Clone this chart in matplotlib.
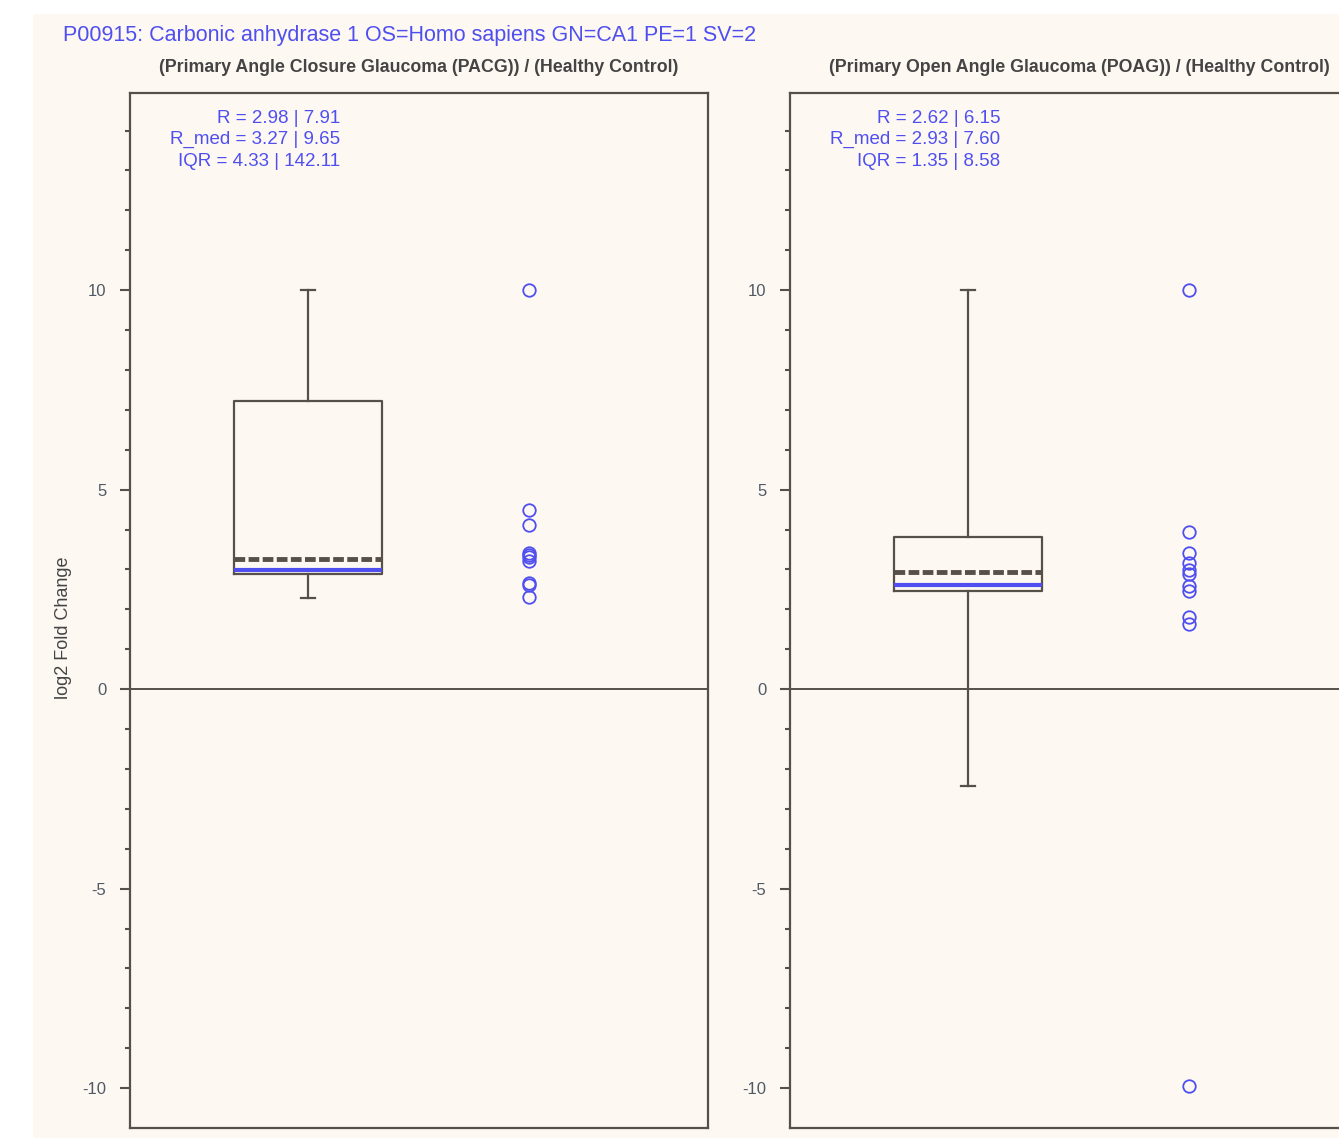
import matplotlib
matplotlib.use("Agg")
import matplotlib.pyplot as plt
from matplotlib.patches import Rectangle

plt.rcParams["font.family"] = ["Liberation Sans", "DejaVu Sans"]
plt.rcParams["axes.unicode_minus"] = False

TITLE = "P00915: Carbonic anhydrase 1 OS=Homo sapiens GN=CA1 PE=1 SV=2"
PANEL_TITLES = [
    "(Primary Angle Closure Glaucoma (PACG)) / (Healthy Control)",
    "(Primary Open Angle Glaucoma (POAG)) / (Healthy Control)",
]
STATS_TEXT = [
    ["R = 2.98 | 7.91", "R_med = 3.27 | 9.65", "IQR = 4.33 | 142.11"],
    ["R = 2.62 | 6.15", "R_med = 2.93 | 7.60", "IQR = 1.35 | 8.58"],
]

# box summaries (log2 fold change)
whislo = [2.28, -2.42]
q1 = [2.88, 2.47]
med = [2.98, 2.62]      # R (blue line)
mean = [3.27, 2.93]     # R_med (dashed line)
q3 = [7.22, 3.82]
whishi = [10.0, 10.0]

# individual ratios
pacg_points = [10.0, 4.48, 4.12, 3.42, 3.35, 3.30, 3.22, 2.66, 2.62, 2.30]
poag_points = [10.0, 3.93, 3.41, 3.15, 2.98, 2.88, 2.58, 2.47, 1.80, 1.63, -9.95]
points = [pacg_points, poag_points]

W, H = 1339, 1139
BG = "#fdf8f2"
EDGE = "#575049"
BLUE = "#4f4ff0"

fig = plt.figure(figsize=(W / 100, H / 100), dpi=100, facecolor="white")
fig.patches.append(Rectangle((33 / W, 1 - 1138 / H), 1, (1138 - 14) / H,
                             transform=fig.transFigure, facecolor=BG,
                             edgecolor="none", zorder=-10))

fig.text(63 / W, 1 - 35 / H, TITLE, color=BLUE, fontsize=15.5, va="center", ha="left")

ax_w = 578 / W
ax_b = 1 - 1128 / H
ax_h = (1128 - 93) / H
lefts = [130 / W, 790 / W]

for i in range(2):
    ax = fig.add_axes([lefts[i], ax_b, ax_w, ax_h])
    ax.set_facecolor(BG)
    stats = [dict(whislo=whislo[i], q1=q1[i], med=med[i], mean=mean[i],
                  q3=q3[i], whishi=whishi[i], fliers=[])]
    ax.bxp(stats, positions=[1], widths=0.67, capwidths=0.065,
           showmeans=True, meanline=True, showfliers=False,
           boxprops=dict(color=EDGE, lw=1.6),
           whiskerprops=dict(color=EDGE, lw=1.6),
           capprops=dict(color=EDGE, lw=1.6),
           medianprops=dict(color=BLUE, lw=3.0),
           meanprops=dict(color=EDGE, lw=3.5, ls=(0, (2.2, 0.7))))
    ax.plot([2] * len(points[i]), points[i], ls="none", marker="o",
            markersize=9, markerfacecolor="none", markeredgecolor=BLUE,
            markeredgewidth=1.3)
    ax.axhline(0, color=EDGE, lw=1.4)

    ax.set_xlim(0.195, 2.81)
    ax.set_ylim(-11.0, 14.94)
    ax.set_xticks([])
    ax.set_yticks([-10, -5, 0, 5, 10])
    ax.set_yticks(range(-10, 15), minor=True)
    ax.tick_params(axis="y", which="major", length=7, width=1.5, color=EDGE,
                   labelsize=12, labelcolor="#505a66", pad=10)
    ax.tick_params(axis="y", which="minor", length=3.5, width=1.5, color=EDGE)
    for sp in ax.spines.values():
        sp.set_color(EDGE)
        sp.set_linewidth(1.6)

    ax.text(0.364, 0.984, "\n".join(STATS_TEXT[i]), transform=ax.transAxes,
            ha="right", va="top", color=BLUE, fontsize=13.5, linespacing=1.35)

    fig.text(lefts[i] + ax_w / 2, 1 - 68 / H, PANEL_TITLES[i], ha="center",
             va="center", fontsize=12.8, fontweight="bold", color="#444444")

fig.text(63 / W, 1 - 628 / H, "log2 Fold Change", rotation=90, ha="center",
         va="center", fontsize=13, color="#444444")

fig.savefig("out.png", dpi=100, facecolor="white")
